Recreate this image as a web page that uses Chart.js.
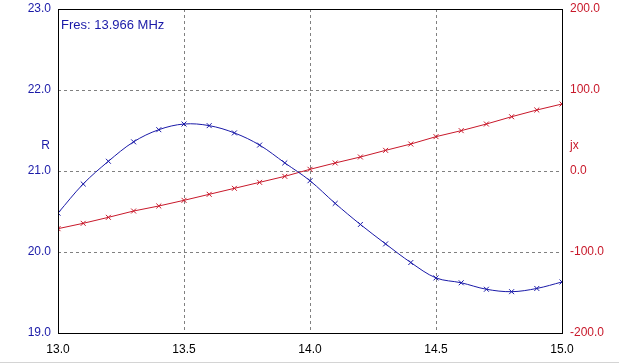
<!DOCTYPE html>
<html>
<head>
<meta charset="utf-8">
<script src="https://cdn.jsdelivr.net/npm/chart.js@4.4.0/dist/chart.umd.min.js"></script>
<style>
  html, body { margin: 0; padding: 0; background: #ffffff; }
  #wrap { width: 619px; height: 362px; position: relative; }
  #bar { width: 619px; height: 1px; background: #d4d4d4; }
</style>
</head>
<body>
<div id="wrap"><canvas id="c" width="619" height="362"></canvas></div>
<div id="bar"></div>
<script>
const freqs = [13.0, 13.1, 13.2, 13.3, 13.4, 13.5, 13.6, 13.7, 13.8, 13.9, 14.0,
               14.1, 14.2, 14.3, 14.4, 14.5, 14.6, 14.7, 14.8, 14.9, 15.0];
const rValues = [20.48, 20.84, 21.12, 21.36, 21.51, 21.58, 21.56, 21.47, 21.32, 21.10, 20.88,
                 20.60, 20.34, 20.10, 19.87, 19.68, 19.62, 19.54, 19.51, 19.55, 19.63];
const jxValues = [-71.2, -64.6, -57.2, -49.4, -43.2, -36.2, -28.8, -21.4, -14.0, -6.6, 2.1,
                  9.9, 17.3, 25.5, 33.3, 42.4, 49.8, 58.0, 67.0, 75.3, 82.7];
const xTicks = [13.0, 13.5, 14.0, 14.5, 15.0];
const rTicks = [19.0, 20.0, 21.0, 22.0, 23.0];
const jxTicks = [-200.0, -100.0, 0.0, 100.0, 200.0];
const fresText = 'Fres: 13.966 MHz';
const rTitle = 'R';
const jxTitle = 'jx';

const BLUE = '#1a1aa8';
const RED = '#c8182a';
const FONT = '"Liberation Sans", Arial, sans-serif';

const rData = freqs.map((f, i) => ({ x: f, y: rValues[i] }));
const jxData = freqs.map((f, i) => ({ x: f, y: jxValues[i] }));

function noPad(s) { s.paddingTop = 0; s.paddingBottom = 0; s.paddingLeft = 0; s.paddingRight = 0; }

const overlay = {
  id: 'overlay',
  afterDraw(chart) {
    const { ctx, chartArea: a } = chart;
    ctx.save();
    ctx.strokeStyle = '#000';
    ctx.lineWidth = 1;
    ctx.setLineDash([]);
    ctx.strokeRect(Math.round(a.left) + 0.5, Math.round(a.top) + 0.5,
                   Math.round(a.right - a.left), Math.round(a.bottom - a.top));
    ctx.font = '13px ' + FONT;
    ctx.fillStyle = BLUE;
    ctx.textAlign = 'left';
    ctx.textBaseline = 'middle';
    ctx.fillText(fresText, a.left + 3, a.top + 16);
    ctx.font = '12px ' + FONT;
    ctx.textAlign = 'center';
    const yR = chart.scales.yR;
    const yMid = yR.getPixelForValue(21.0) - 25;
    ctx.fillText(rTitle, a.left - 12.5, yMid);
    ctx.fillStyle = RED;
    ctx.textAlign = 'left';
    ctx.fillText(jxTitle, a.right + 8, yMid);
    ctx.restore();
  }
};

new Chart(document.getElementById('c'), {
  type: 'scatter',
  data: {
    datasets: [
      {
        label: 'R', data: rData, yAxisID: 'yR', showLine: true,
        borderColor: BLUE, backgroundColor: BLUE, borderWidth: 1,
        pointStyle: 'crossRot', pointRadius: 3.5, pointBorderWidth: 1,
        pointBorderColor: BLUE, tension: 0.35
      },
      {
        label: 'jx', data: jxData, yAxisID: 'yX', showLine: true,
        borderColor: RED, backgroundColor: RED, borderWidth: 1,
        pointStyle: 'crossRot', pointRadius: 3.5, pointBorderWidth: 1,
        pointBorderColor: RED, tension: 0
      }
    ]
  },
  options: {
    responsive: false,
    animation: false,
    events: [],
    layout: { padding: { top: 9, left: 0, right: 0, bottom: 0 } },
    plugins: { legend: { display: false }, tooltip: { enabled: false } },
    scales: {
      x: {
        type: 'linear', min: 13.0, max: 15.0,
        afterBuildTicks: s => { s.ticks = xTicks.map(v => ({ value: v })); },
        afterFit: s => { s.height = 29; noPad(s); },
        border: { display: false, dash: [3, 3] },
        grid: { color: '#808080', lineWidth: 1, drawTicks: false },
        ticks: { color: '#000', font: { family: FONT, size: 12 }, padding: 9,
                 maxRotation: 0, callback: v => v.toFixed(1) }
      },
      yR: {
        type: 'linear', position: 'left', min: 19.0, max: 23.0,
        afterBuildTicks: s => { s.ticks = rTicks.map(v => ({ value: v })); },
        afterFit: s => { s.width = 58; noPad(s); },
        border: { display: false, dash: [3, 3] },
        grid: { color: '#808080', lineWidth: 1, drawTicks: false },
        ticks: { color: BLUE, font: { family: FONT, size: 12 }, padding: 7,
                 callback: v => v.toFixed(1) }
      },
      yX: {
        type: 'linear', position: 'right', min: -200, max: 200,
        afterBuildTicks: s => { s.ticks = jxTicks.map(v => ({ value: v })); },
        afterFit: s => { s.width = 57; noPad(s); },
        border: { display: false },
        grid: { display: false, drawTicks: false },
        ticks: { color: RED, font: { family: FONT, size: 12 }, padding: 8,
                 callback: v => v.toFixed(1) }
      }
    }
  },
  plugins: [overlay]
});
</script>
</body>
</html>
